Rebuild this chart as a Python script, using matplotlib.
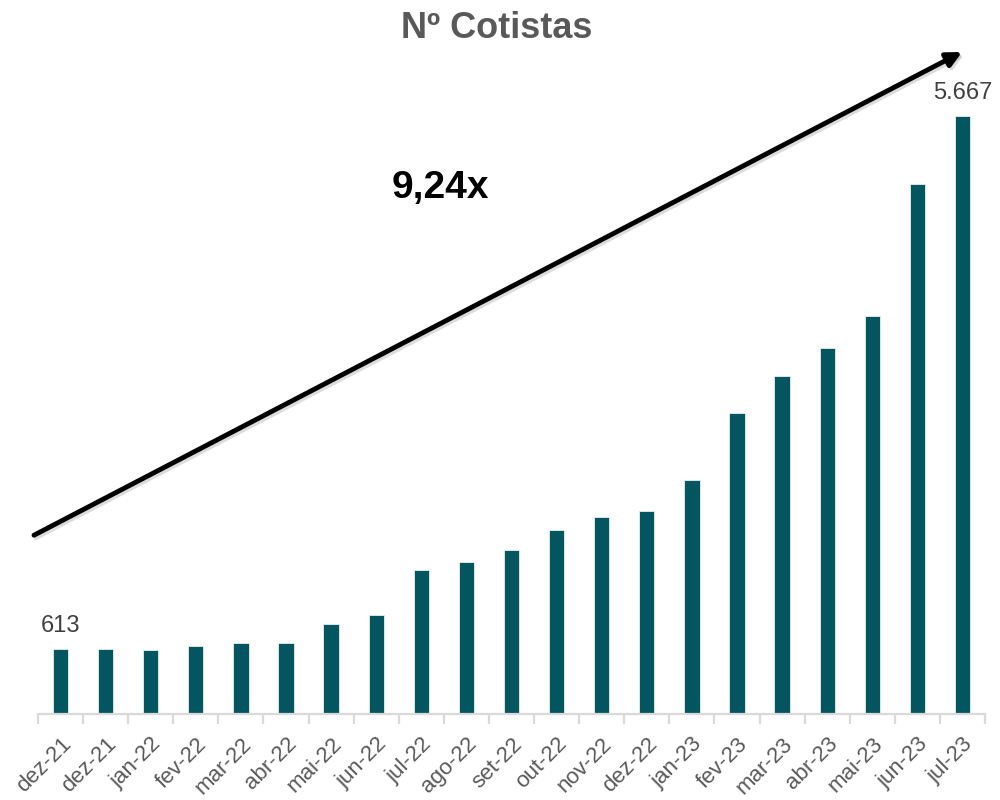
import matplotlib
matplotlib.use("Agg")
import matplotlib.pyplot as plt
import numpy as np

plt.rcParams['font.family'] = ['Liberation Sans', 'DejaVu Sans']

categories = ["dez-21", "dez-21", "jan-22", "fev-22", "mar-22", "abr-22", "mai-22",
              "jun-22", "jul-22", "ago-22", "set-22", "out-22", "nov-22", "dez-22",
              "jan-23", "fev-23", "mar-23", "abr-23", "mai-23", "jun-23", "jul-23"]
values = [613, 613, 610, 640, 675, 675, 855, 940, 1365, 1445, 1555, 1745, 1870, 1925,
          2220, 2855, 3205, 3470, 3775, 5025, 5667]
shown_labels = {0: "613", 20: "5.667"}
title = "Nº Cotistas"
multiple = "9,24x"

bar_color = "#03555F"
fig = plt.figure(figsize=(10, 8), dpi=100)
ax = fig.add_axes([0.038, 0.1075, 0.947, 0.8175])
x = np.arange(len(values))
ax.bar(x, values, width=0.34, color=bar_color, edgecolor="#E8F0F0", linewidth=0.6)
ax.set_xlim(-0.5, len(values) - 0.5)
ax.set_ylim(0, 6200)

for s in ["top", "right", "left"]:
    ax.spines[s].set_visible(False)
ax.spines["bottom"].set_color("#D9D9D9")
ax.spines["bottom"].set_linewidth(1.6)
ax.set_yticks([])
ax.set_xticks(x)
ax.set_xticklabels(categories, rotation=45, ha="right", rotation_mode="anchor",
                   fontsize=16, color="#595959")
ax.tick_params(axis="x", which="major", length=0, pad=14)
ax.set_xticks(np.arange(-0.5, len(values), 1.0), minor=True)
ax.tick_params(axis="x", which="minor", length=7, width=1.6, color="#D9D9D9")

for i, txt in shown_labels.items():
    ax.text(x[i], values[i] + 120, txt, ha="center", va="bottom",
            fontsize=17, color="#404040")

fig.text(0.497, 0.965, title, ha="center", va="center", fontsize=26,
         fontweight="bold", color="#595959")
fig.text(0.44, 0.765, multiple, ha="center", va="center", fontsize=28,
         fontweight="bold", color="black")

ax.annotate("", xy=(0.964, 0.932), xytext=(0.036, 0.328),
            xycoords="figure fraction", textcoords="figure fraction",
            arrowprops=dict(arrowstyle="-|>", lw=3.5, color="#BBBBBB",
                            mutation_scale=22, shrinkA=0, shrinkB=0, alpha=0.5),
            annotation_clip=False)
ax.annotate("", xy=(0.962, 0.935), xytext=(0.034, 0.331),
            xycoords="figure fraction", textcoords="figure fraction",
            arrowprops=dict(arrowstyle="-|>", lw=3.5, color="black",
                            mutation_scale=22, shrinkA=0, shrinkB=0),
            annotation_clip=False)

fig.savefig("out.png", dpi=100, facecolor="white")
